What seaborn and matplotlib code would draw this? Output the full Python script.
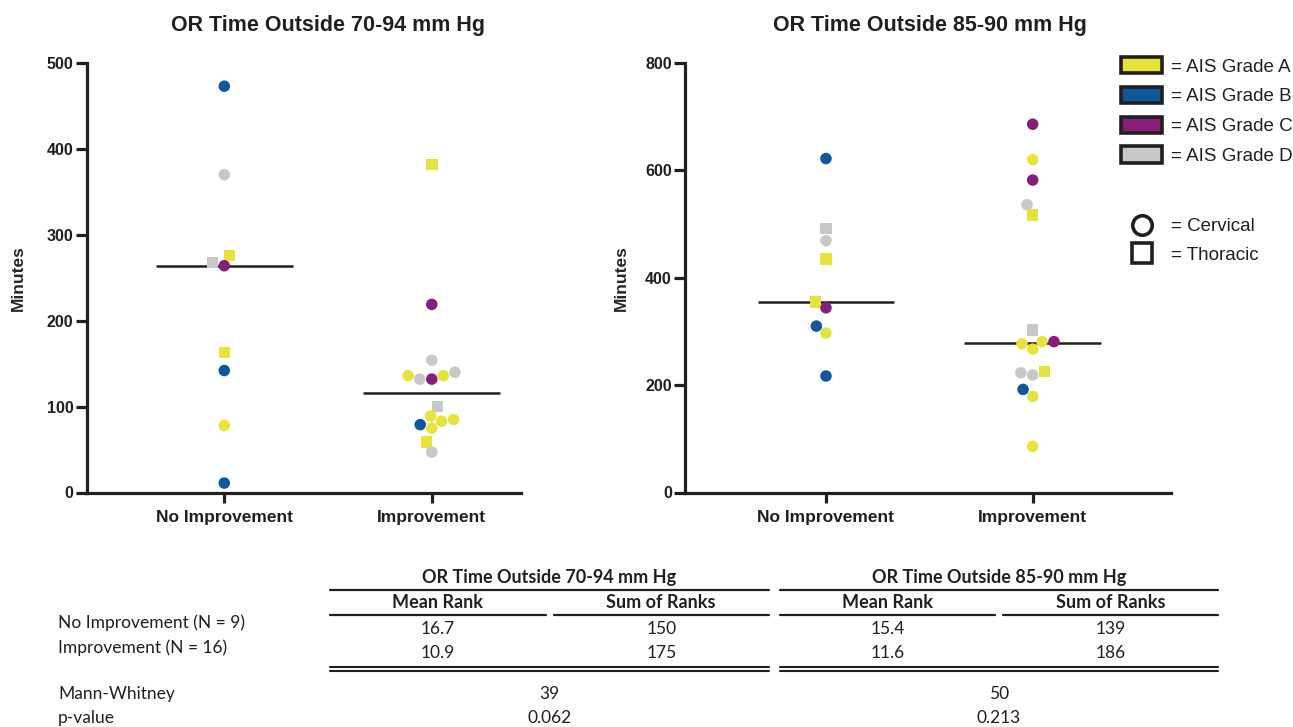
import matplotlib
matplotlib.use("Agg")
import matplotlib.pyplot as plt
import numpy as np
import pandas as pd
import seaborn as sns
from matplotlib.lines import Line2D
from matplotlib.markers import MarkerStyle
from matplotlib.patches import Patch

# ---- data ----
groups = ["No Improvement", "Improvement"]
grades = ["A", "B", "C", "D"]
grade_colors = ["#e6e43c", "#10589c", "#891e7a", "#c8c8ca"]
sites = {"C": "Cervical", "T": "Thoracic"}

# OR time outside 70-94 mm Hg (minutes)
t7094_noimp = [473, 370, 276, 264, 268, 163, 142, 78, 11]
t7094_noimp_grade = ["B", "D", "A", "C", "D", "A", "B", "A", "B"]
t7094_noimp_site = ["C", "C", "T", "C", "T", "T", "C", "C", "C"]
t7094_imp = [382, 219, 154, 140, 136, 136, 132, 132, 100, 89, 85, 79, 83, 75, 59, 47]
t7094_imp_grade = ["A", "C", "D", "D", "A", "A", "D", "C", "D", "A", "A", "B", "A", "A", "A", "D"]
t7094_imp_site = ["T", "C", "C", "C", "C", "C", "C", "C", "T", "C", "C", "C", "C", "C", "T", "C"]

# OR time outside 85-90 mm Hg (minutes)
t8590_noimp = [622, 492, 469, 435, 355, 344, 310, 297, 217]
t8590_noimp_grade = ["B", "D", "D", "A", "A", "C", "B", "A", "B"]
t8590_noimp_site = ["C", "T", "C", "T", "T", "C", "C", "C", "C"]
t8590_imp = [686, 620, 582, 536, 517, 303, 281, 281, 277, 267, 225, 223, 219, 192, 179, 86]
t8590_imp_grade = ["C", "A", "C", "D", "A", "D", "C", "A", "A", "A", "A", "D", "D", "B", "A", "A"]
t8590_imp_site = ["C", "C", "C", "C", "T", "T", "C", "C", "C", "C", "T", "C", "C", "C", "C", "C"]

# rank table
table_titles = ["OR Time Outside 70-94 mm Hg", "OR Time Outside 85-90 mm Hg"]
table_cols = ["Mean Rank", "Sum of Ranks"]
table_rows = ["No Improvement (N = 9)", "Improvement (N = 16)"]
mean_rank_7094 = [16.7, 10.9]
sum_rank_7094 = [150, 175]
mean_rank_8590 = [15.4, 11.6]
sum_rank_8590 = [139, 186]
mann_whitney = [39, 50]
p_values = [0.062, 0.213]

INK = "#231f20"
W, H = 1293, 727
SANS = ["Liberation Sans", "DejaVu Sans"]

sns.set_style("ticks")
plt.rcParams["font.family"] = SANS
plt.rcParams["text.color"] = INK
plt.rcParams["axes.edgecolor"] = INK
plt.rcParams["xtick.color"] = INK
plt.rcParams["ytick.color"] = INK


def panel_frame(no_v, no_g, no_s, im_v, im_g, im_s):
    return pd.DataFrame({
        "group": [groups[0]] * len(no_v) + [groups[1]] * len(im_v),
        "minutes": no_v + im_v,
        "grade": no_g + im_g,
        "site": [sites[s] for s in no_s + im_s],
    })


def marker_path(m):
    ms = MarkerStyle(m)
    return ms.get_path().transformed(ms.get_transform())


def draw_panel(ax, df, ymax, ystep, xlim):
    sns.swarmplot(data=df, x="group", y="minutes", hue="grade", order=groups,
                  hue_order=grades, palette=dict(zip(grades, grade_colors)),
                  size=8.3, linewidth=0, legend=False, ax=ax)
    # circles = cervical, squares = thoracic
    shape = {"Cervical": marker_path("o"), "Thoracic": marker_path("s")}
    for coll, g in zip(list(ax.collections), groups):
        coll.set_paths([shape[s] for s in df.loc[df.group == g, "site"]])
        coll.set_zorder(3)
    for i, g in enumerate(groups):
        med = df.loc[df.group == g, "minutes"].median()
        ax.hlines(med, i - 0.33, i + 0.33, color=INK, lw=1.8, zorder=2)
    ax.set_xlim(*xlim)
    ax.set_ylim(0, ymax)
    ax.set_yticks(np.arange(0, ymax + 1, ystep))
    ax.set_xlabel("")
    ax.set_ylabel("Minutes", fontsize=12.5, fontweight="bold", family=SANS)
    sns.despine(ax=ax)
    for sp in ("left", "bottom"):
        ax.spines[sp].set_linewidth(2.3)
    ax.tick_params(axis="y", length=8, width=2.3, pad=1.5, labelsize=11.5)
    ax.tick_params(axis="x", length=7, width=2.3, pad=5.5, labelsize=12.5)
    for lab in ax.get_xticklabels() + ax.get_yticklabels():
        lab.set_fontweight("bold")
        lab.set_fontfamily(SANS)


fig = plt.figure(figsize=(W / 100, H / 100), dpi=100)
ax1 = fig.add_axes([86.5 / W, 1 - 492.5 / H, (521 - 86.5) / W, 429.5 / H])
ax2 = fig.add_axes([685 / W, 1 - 492.5 / H, (1171 - 685) / W, 429.5 / H])

df1 = panel_frame(t7094_noimp, t7094_noimp_grade, t7094_noimp_site,
                  t7094_imp, t7094_imp_grade, t7094_imp_site)
df2 = panel_frame(t8590_noimp, t8590_noimp_grade, t8590_noimp_site,
                  t8590_imp, t8590_imp_grade, t8590_imp_site)
draw_panel(ax1, df1, 500, 100, (-0.664, 1.43))
draw_panel(ax2, df2, 800, 200, (-0.682, 1.669))
ax1.yaxis.set_label_coords(-0.14, 0.5)
ax2.yaxis.set_label_coords(-0.115, 0.5)

fig.text(328 / W, 1 - 25 / H, "OR Time Outside 70-94 mm Hg", ha="center", va="center",
         fontsize=15.5, fontweight="bold")
fig.text(930 / W, 1 - 25 / H, "OR Time Outside 85-90 mm Hg", ha="center", va="center",
         fontsize=15.5, fontweight="bold")

# legends
grade_handles = [Patch(facecolor=c, edgecolor=INK, linewidth=2.6, label=f"= AIS Grade {g}")
                 for g, c in zip(grades, grade_colors)]
fig.legend(handles=grade_handles, loc="upper left", bbox_to_anchor=(1121 / W, 1 - 57 / H),
           frameon=False, fontsize=13.5, handlelength=2.2, handleheight=0.95,
           handletextpad=0.45, labelspacing=0.6, borderpad=0, borderaxespad=0)
site_handles = [Line2D([], [], marker=m, linestyle="none", markerfacecolor="white",
                       markeredgecolor=INK, markeredgewidth=2.6, markersize=m_sz, label=f"= {s}")
                for m, m_sz, s in (("o", 14, "Cervical"), ("s", 15, "Thoracic"))]
fig.legend(handles=site_handles, loc="upper left", bbox_to_anchor=(1121 / W, 1 - 218 / H),
           frameon=False, fontsize=13.5, handlelength=2.2, handletextpad=0.45,
           labelspacing=0.62, borderpad=0, borderaxespad=0)

# ---- rank table ----
TFONT = ["Lato", "DejaVu Sans"]


def fx(x):
    return x / W


def fy(y):
    return 1 - y / H


def hline(x0, x1, y, lw=1.6):
    fig.add_artist(Line2D([fx(x0), fx(x1)], [fy(y), fy(y)], color=INK, lw=lw))


blocks = [(330, 769), (780, 1218)]
block_vals = [(mean_rank_7094, sum_rank_7094), (mean_rank_8590, sum_rank_8590)]
for (x0, x1), title, (mr, sr), mw, pv in zip(blocks, table_titles, block_vals, mann_whitney, p_values):
    xm = (x0 + x1) / 2
    fig.text(fx(xm), fy(577), title, ha="center", va="center", fontsize=13,
             fontweight="bold", family=TFONT)
    hline(x0, x1, 590)
    subs = [(x0, xm - 4), (xm + 4, x1)]
    for (s0, s1), col, vals, fmt in zip(subs, table_cols, (mr, sr), ("{:.1f}", "{:d}")):
        sc = (s0 + s1) / 2
        fig.text(fx(sc), fy(602), col, ha="center", va="center", fontsize=13,
                 fontweight="bold", family=TFONT)
        hline(s0, s1, 615)
        for k, v in enumerate(vals):
            fig.text(fx(sc), fy(628.5 + 24 * k), fmt.format(v), ha="center", va="center",
                     fontsize=12.5, family=TFONT)
    hline(x0, x1, 666.5, lw=1.5)
    hline(x0, x1, 671, lw=1.5)
    fig.text(fx(xm), fy(694), f"{mw}", ha="center", va="center", fontsize=12.5, family=TFONT)
    fig.text(fx(xm), fy(718), f"{pv:.3f}", ha="center", va="center", fontsize=12.5, family=TFONT)

for k, row in enumerate(table_rows):
    fig.text(fx(58), fy(623 + 25 * k), row, ha="left", va="center", fontsize=12.5, family=TFONT)
fig.text(fx(58), fy(694), "Mann-Whitney", ha="left", va="center", fontsize=12.5, family=TFONT)
fig.text(fx(58), fy(718), "p-value", ha="left", va="center", fontsize=12.5, family=TFONT)

fig.savefig("out.png", dpi=100)
